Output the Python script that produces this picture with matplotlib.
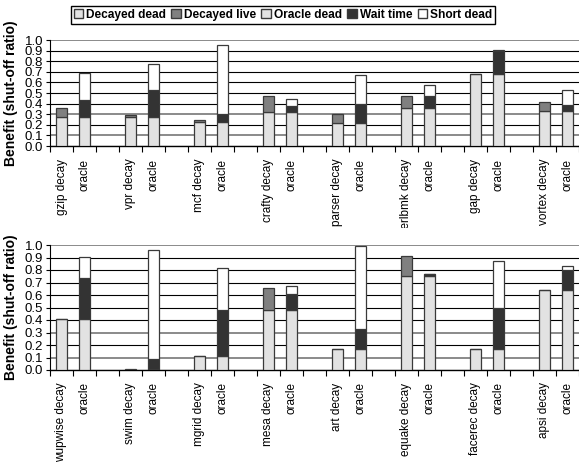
import matplotlib
matplotlib.use("Agg")
import matplotlib.pyplot as plt
from matplotlib.patches import Patch
from matplotlib.transforms import Bbox, TransformedBbox
import numpy as np

plt.rcParams['font.family'] = ['Liberation Sans', 'DejaVu Sans']

# SPECint (top) and SPECfp (bottom) benchmarks
top_names = ["gzip", "vpr", "mcf", "crafty", "parser", "perlbmk", "gap", "vortex"]
top_decayed_dead = [0.276, 0.276, 0.229, 0.321, 0.216, 0.362, 0.679, 0.330]
top_decayed_live = [0.086, 0.013, 0.015, 0.152, 0.082, 0.111, 0.000, 0.086]
top_oracle_dead = [0.276, 0.276, 0.229, 0.321, 0.216, 0.362, 0.679, 0.330]
top_wait_time = [0.159, 0.254, 0.073, 0.060, 0.184, 0.114, 0.216, 0.057]
top_short_dead = [0.257, 0.241, 0.647, 0.063, 0.273, 0.102, 0.013, 0.146]

bot_names = ["wupwise", "swim", "mgrid", "mesa", "art", "equake", "facerec", "apsi"]
bot_decayed_dead = [0.407, 0.004, 0.112, 0.479, 0.165, 0.753, 0.166, 0.638]
bot_decayed_live = [0.000, 0.005, 0.000, 0.181, 0.000, 0.157, 0.000, 0.000]
bot_oracle_dead = [0.407, 0.005, 0.112, 0.479, 0.165, 0.750, 0.166, 0.638]
bot_wait_time = [0.332, 0.080, 0.367, 0.133, 0.165, 0.021, 0.332, 0.162]
bot_short_dead = [0.168, 0.878, 0.340, 0.058, 0.659, 0.000, 0.374, 0.034]

C_DEAD = "#e2e2e2"
C_LIVE = "#808080"
C_WAIT = "#333333"
C_SHORT = "#ffffff"
EDGE = "#3a3a3a"


def draw_panel(ax, names, dd, dl, od, wt, sd):
    n = len(names)
    x_decay = np.arange(n) * 3
    x_oracle = x_decay + 1
    w = 0.45
    kw = dict(width=w, edgecolor=EDGE, linewidth=0.9, zorder=3)
    dd = np.array(dd); dl = np.array(dl)
    od = np.array(od); wt = np.array(wt); sd = np.array(sd)
    ax.bar(x_decay, dd, color=C_DEAD, **kw)
    ax.bar(x_decay, dl, bottom=dd, color=C_LIVE, **kw)
    ax.bar(x_oracle, od, color=C_DEAD, **kw)
    ax.bar(x_oracle, wt, bottom=od, color=C_WAIT, **kw)
    ax.bar(x_oracle, sd, bottom=od + wt, color=C_SHORT, **kw)

    ax.set_xlim(-0.5, 3 * n - 0.5)
    ax.set_ylim(0, 1.0)
    ax.set_yticks(np.arange(0, 1.01, 0.1))
    ax.set_yticklabels([f"{v:.1f}" for v in np.arange(0, 1.01, 0.1)], fontsize=9.5)

    centers = np.sort(np.concatenate([x_decay, x_oracle]))
    labels = []
    for nm in names:
        labels += [f"{nm} decay", "oracle"]
    ax.set_xticks(centers)
    ax.set_xticklabels(labels, rotation=90, fontsize=8.5, va="top")
    ax.tick_params(axis="x", which="major", length=0, pad=9)
    ax.set_xticks(np.arange(-0.5, 3 * n, 1), minor=True)
    ax.tick_params(axis="x", which="minor", length=4, width=0.8, direction="out")
    ax.tick_params(axis="y", length=3, width=0.8, pad=2, direction="out")

    ax.grid(axis="y", color="black", linewidth=0.8, zorder=0)
    for v, gl in zip(np.arange(0, 1.01, 0.1), ax.get_ygridlines()):
        if round(v, 1) in (0.1, 0.3, 1.0):
            gl.set_color("#8a8a8a")
            gl.set_linewidth(1.4)
    ax.set_axisbelow(True)
    for s in ["top", "right"]:
        ax.spines[s].set_visible(False)
    ax.spines["left"].set_linewidth(0.8)
    ax.spines["bottom"].set_linewidth(1.0)


fig = plt.figure(figsize=(5.79, 4.62), dpi=100)
ax_top = fig.add_axes([50 / 579, 1 - 146 / 462, 552 / 579, 106 / 462])
ax_bot = fig.add_axes([50 / 579, 1 - 370 / 462, 552 / 579, 125 / 462])

draw_panel(ax_top, top_names, top_decayed_dead, top_decayed_live,
           top_oracle_dead, top_wait_time, top_short_dead)
draw_panel(ax_bot, bot_names, bot_decayed_dead, bot_decayed_live,
           bot_oracle_dead, bot_wait_time, bot_short_dead)

# the upper chart's labels stop where the lower chart begins
clip = TransformedBbox(Bbox([[0, 1 - 228 / 462], [1, 1]]), fig.transFigure)
for lbl in ax_top.get_xticklabels():
    lbl.set_clip_box(clip)
    lbl.set_clip_on(True)

for ax in (ax_top, ax_bot):
    pos = ax.get_position()
    fig.text(11 / 579, (pos.y0 + pos.y1) / 2, "Benefit (shut-off ratio)",
             rotation=90, ha="center", va="center", fontsize=10, fontweight="bold")

handles = [
    Patch(facecolor=C_DEAD, edgecolor=EDGE, label="Decayed dead"),
    Patch(facecolor=C_LIVE, edgecolor=EDGE, label="Decayed live"),
    Patch(facecolor=C_DEAD, edgecolor=EDGE, label="Oracle dead"),
    Patch(facecolor=C_WAIT, edgecolor=EDGE, label="Wait time"),
    Patch(facecolor=C_SHORT, edgecolor=EDGE, label="Short dead"),
]
leg = fig.legend(handles=handles, loc="center", bbox_to_anchor=(283 / 579, 1 - 15 / 462),
                 ncol=5, fancybox=False, framealpha=1, edgecolor="black",
                 handlelength=0.8, handleheight=0.8, handletextpad=0.25,
                 columnspacing=0.45, borderpad=0.25, borderaxespad=0,
                 prop={"weight": "bold", "size": 8.6})
leg.get_frame().set_linewidth(1.0)

fig.savefig("out.png", dpi=100)
